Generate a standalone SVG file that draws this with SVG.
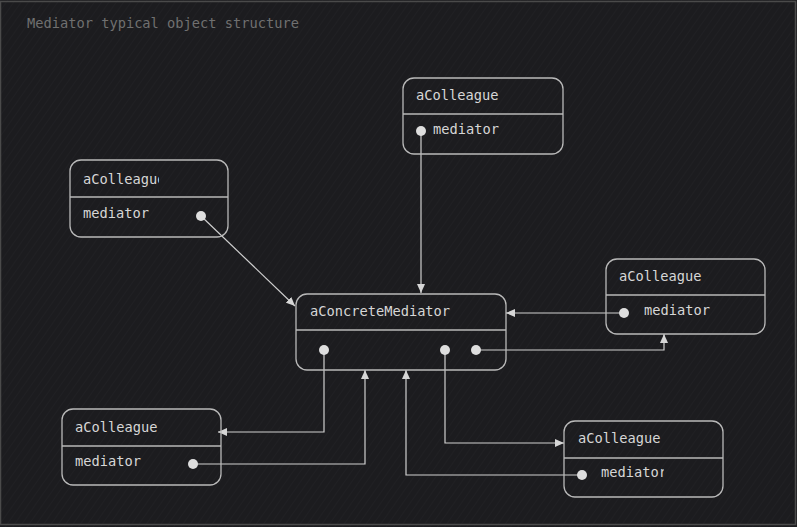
<svg xmlns="http://www.w3.org/2000/svg" width="797" height="527" viewBox="0 0 797 527">
<style>
.box{fill:none;stroke:#b9b9b9;stroke-width:1.3}
.div{stroke:#b9b9b9;stroke-width:1.3}
.t{font-family:"DejaVu Sans Mono","Liberation Mono",monospace;font-size:13.7px;fill:#d6d6d6}
.title{font-family:"DejaVu Sans Mono","Liberation Mono",monospace;font-size:13.7px;fill:#707070}
.dot{fill:#dedede}
.c{fill:none;stroke:#cfcfcf;stroke-width:1.2}
</style>
<defs>
<pattern id="hatch" width="6" height="6" patternUnits="userSpaceOnUse" patternTransform="rotate(35)">
<line x1="0" y1="0" x2="0" y2="6" stroke="#2a2a2e" stroke-width="1"/>
</pattern>
<marker id="ah" markerWidth="10" markerHeight="8" refX="9" refY="4" orient="auto" markerUnits="userSpaceOnUse">
<path d="M0,0 L9,4 L0,8 Z" fill="#d6d6d6"/>
</marker>
<clipPath id="clipA"><rect x="70" y="160" width="89" height="37"/></clipPath>
<clipPath id="clipF"><rect x="564" y="458" width="100" height="38"/></clipPath>
</defs>
<rect x="0" y="0" width="797" height="527" fill="#1c1c1f"/>
<rect x="0" y="0" width="797" height="527" fill="url(#hatch)" opacity="0.6"/>
<rect x="0.5" y="1.5" width="795" height="523" fill="none" stroke="#4a4a4a" stroke-width="1.5"/>
<text class="title" x="27" y="28">Mediator typical object structure</text>

<g id="connectors">
<path class="c" d="M201,216 L295,306" marker-end="url(#ah)"/>
<path class="c" d="M421,131 L421,293" marker-end="url(#ah)"/>
<path class="c" d="M624,313 L506,313" marker-end="url(#ah)"/>
<path class="c" d="M476,350 L664,350 L664,334" marker-end="url(#ah)"/>
<path class="c" d="M324,350 L324,432 L218,432" marker-end="url(#ah)"/>
<path class="c" d="M193,464 L365,464 L365,370" marker-end="url(#ah)"/>
<path class="c" d="M445,350 L445,443 L564,443" marker-end="url(#ah)"/>
<path class="c" d="M582,475 L406,475 L406,370" marker-end="url(#ah)"/>
</g>

<g id="colleague-topleft">
<rect class="box" x="70" y="160" width="158" height="77" rx="11"/>
<line class="div" x1="70" y1="197" x2="228" y2="197"/>
<text class="t" x="83" y="184" clip-path="url(#clipA)">aColleague</text>
<text class="t" x="83" y="218">mediator</text>
<circle class="dot" cx="201" cy="216" r="5"/>
</g>

<g id="colleague-top">
<rect class="box" x="403" y="78" width="160" height="76" rx="11"/>
<line class="div" x1="403" y1="114" x2="563" y2="114"/>
<text class="t" x="416" y="100">aColleague</text>
<text class="t" x="433" y="134">mediator</text>
<circle class="dot" cx="421" cy="131" r="5"/>
</g>

<g id="mediator">
<rect class="box" x="296" y="294" width="210" height="76" rx="11"/>
<line class="div" x1="296" y1="330" x2="506" y2="330"/>
<text class="t" x="310" y="316">aConcreteMediator</text>
<circle class="dot" cx="324" cy="350" r="5"/>
<circle class="dot" cx="445" cy="350" r="5"/>
<circle class="dot" cx="476" cy="350" r="5"/>
</g>

<g id="colleague-right">
<rect class="box" x="606" y="259" width="159" height="75" rx="11"/>
<line class="div" x1="606" y1="295" x2="765" y2="295"/>
<text class="t" x="619" y="281">aColleague</text>
<text class="t" x="644" y="315">mediator</text>
<circle class="dot" cx="624" cy="313" r="5"/>
</g>

<g id="colleague-bottomleft">
<rect class="box" x="62" y="409" width="159" height="76" rx="11"/>
<line class="div" x1="62" y1="446" x2="221" y2="446"/>
<text class="t" x="75" y="432">aColleague</text>
<text class="t" x="75" y="466">mediator</text>
<circle class="dot" cx="193" cy="464" r="5"/>
</g>

<g id="colleague-bottomright">
<rect class="box" x="564" y="421" width="159" height="76" rx="11"/>
<line class="div" x1="564" y1="458" x2="723" y2="458"/>
<text class="t" x="578" y="443">aColleague</text>
<text class="t" x="601" y="477" clip-path="url(#clipF)">mediator</text>
<circle class="dot" cx="582" cy="475" r="5"/>
</g>
</svg>
